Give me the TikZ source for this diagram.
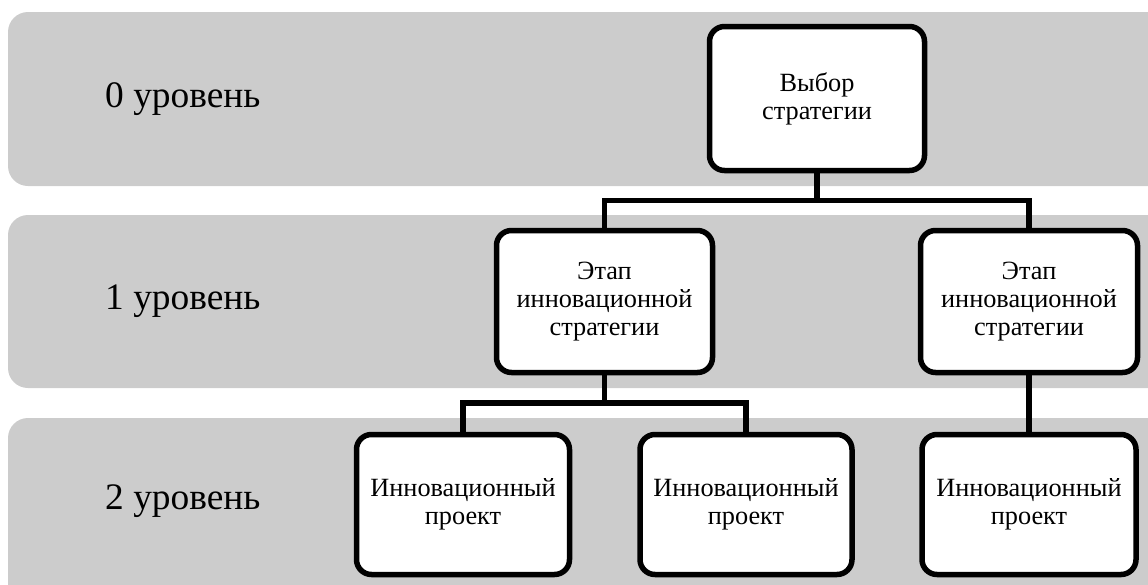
\documentclass[tikz,border=0pt]{standalone}
\usepackage{fontspec}
\setmainfont{Liberation Serif}
\begin{document}
\begin{tikzpicture}[x=1pt,y=-1pt,
  band/.style={fill=black!20, rounded corners=20pt},
  lvl/.style={anchor=west, font=\fontsize{37.4}{42}\selectfont, inner sep=0pt},
  box/.style={draw=black, line width=5.5pt, fill=white, rounded corners=15pt,
    align=center, inner sep=0pt, font=\fontsize{26.3}{28}\selectfont},
  conn/.style={draw=black, line width=5.5pt}]
\useasboundingbox (0,0) rectangle (1148,584);
\clip (0,0) rectangle (1148,584);
% bands
\fill[band] (8,12) rectangle (1175,186);
\fill[band] (8,215) rectangle (1175,388);
\fill[band] (8,418) rectangle (1175,605);
% level labels
\node[lvl] (l0) at (105,99) {0 уровень};
\node[lvl] (l1) at (105,301.5) {1 уровень};
\node[lvl] (l2) at (105,501) {2 уровень};
% connectors junctions
\coordinate (j0) at (817,200.5);
\coordinate (j1) at (604.5,403);
% nodes
\node[box, minimum width=215pt, minimum height=144pt] (n0) at (817,98.5) {Выбор\\стратегии};
\node[box, minimum width=216pt, minimum height=142pt] (n1a) at (604.5,301.5) {Этап\\инновационной\\стратегии};
\node[box, minimum width=217pt, minimum height=142pt] (n1b) at (1029,301.5) {Этап\\инновационной\\стратегии};
\node[box, minimum width=213pt, minimum height=140pt] (n2a) at (463,504.5) {Инновационный\\проект};
\node[box, minimum width=212pt, minimum height=140pt] (n2b) at (746,504.5) {Инновационный\\проект};
\node[box, minimum width=214pt, minimum height=140pt] (n2c) at (1029,504.5) {Инновационный\\проект};
% connectors
\draw[conn] (n0.south) -- (j0);
\draw[conn] (j0) -| (n1a.north);
\draw[conn] (j0) -| (n1b.north);
\draw[conn] (n1a.south) -- (j1);
\draw[conn] (j1) -| (n2a.north);
\draw[conn] (j1) -| (n2b.north);
\draw[conn] (n1b.south) -- (n2c.north);
\end{tikzpicture}
\end{document}
